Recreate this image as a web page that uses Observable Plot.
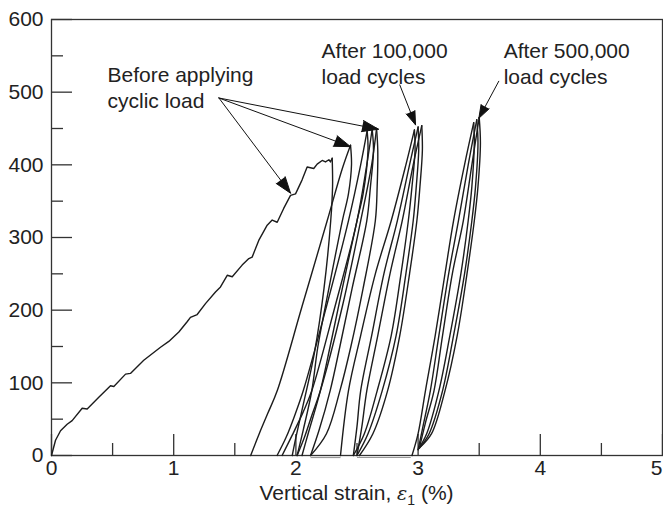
<!DOCTYPE html>
<html><head><meta charset="utf-8">
<script src="https://cdn.jsdelivr.net/npm/d3@7"></script>
<script src="https://cdn.jsdelivr.net/npm/@observablehq/plot@0.6"></script>
<style>
html,body{margin:0;padding:0;background:#fff;}
body{width:663px;height:519px;overflow:hidden;font-family:"Liberation Sans",Arial,Helvetica,sans-serif;color:#222;}
#xlabel{box-sizing:border-box;width:663px;padding-left:51px;padding-right:1px;text-align:center;font-size:21px;line-height:24px;height:38px;}
#xlabel sub{font-size:14px;vertical-align:-5px;line-height:0;}
#xlabel i{font-family:"DejaVu Serif",serif;font-size:19px;}
</style></head>
<body>
<div id="chart"></div>
<div id="xlabel">Vertical strain, <i>ε</i><sub>1</sub> (%)</div>
<script>
// Axis ticks
const xMajor = [0, 1, 2, 3, 4];
const xLast = [5];
const xMinor = [0.5, 1.5, 2.5, 3.5, 4.5];
const yMajor = [0, 100, 200, 300, 400, 500, 600];
const yMinor = [50, 150, 250, 350, 450, 550];

// Monotonic loading (strain %, stress)
const monotonic = [[0,0],[0.033,21],[0.074,34],[0.128,43],[0.169,48],[0.251,65],[0.292,64],[0.387,80],[0.483,96],[0.51,95],[0.606,112],[0.646,113],[0.755,131],[0.892,149],[0.96,157],[1.042,170],[1.11,184],[1.137,190],[1.192,194],[1.26,209],[1.342,225],[1.383,232],[1.438,248],[1.479,246],[1.56,262],[1.615,271],[1.642,273],[1.696,296],[1.765,317],[1.806,324],[1.847,321],[1.90,340],[1.956,358],[1.997,360],[2.05,379],[2.092,397],[2.146,395],[2.174,401],[2.215,406],[2.242,404],[2.27,407],[2.283,404],[2.297,409]];

// Before applying cyclic load
const unloadA = [[2.297,409],[2.30,370],[2.285,323],[2.23,230],[2.15,140],[2.06,70],[2.00,25],[1.97,0]];
const loadB = [[1.63,0],[1.70,30],[1.77,58],[1.847,89],[2.05,205],[2.256,323],[2.38,395],[2.447,427]];
const unloadB = [[2.447,427],[2.455,400],[2.43,360],[2.38,323],[2.27,230],[2.18,150],[2.13,89],[2.06,35],[2.01,0]];
const loadC1 = [[1.846,0],[1.92,25],[1.99,55],[2.06,89],[2.25,205],[2.43,323],[2.53,400],[2.583,447]];
const unloadC1 = [[2.583,447],[2.59,420],[2.55,360],[2.50,323],[2.38,230],[2.28,150],[2.20,89],[2.10,30],[2.05,0]];
const loadC2 = [[1.887,0],[1.97,28],[2.06,60],[2.13,89],[2.32,205],[2.50,323],[2.58,400],[2.624,449]];
const unloadC2 = [[2.624,449],[2.635,420],[2.61,370],[2.58,323],[2.46,230],[2.36,150],[2.28,89],[2.19,35],[2.12,0]];
const loadC3 = [[2.01,0],[2.07,25],[2.13,55],[2.20,89],[2.38,205],[2.53,323],[2.62,400],[2.66,450]];
const unloadC3 = [[2.66,450],[2.67,420],[2.665,370],[2.65,323],[2.55,230],[2.45,150],[2.36,89],[2.25,30],[2.12,0]];

// After 100,000 load cycles
const loadD1 = [[2.365,0],[2.43,89],[2.53,165],[2.65,250],[2.78,323],[2.90,400],[2.97,448]];
const unloadD1 = [[2.97,448],[2.975,420],[2.95,370],[2.92,323],[2.86,250],[2.78,165],[2.665,89],[2.56,30],[2.47,0]];
const loadD2 = [[2.47,0],[2.50,40],[2.53,89],[2.62,165],[2.72,250],[2.83,323],[2.93,400],[3.00,452]];
const unloadD2 = [[3.00,452],[3.005,420],[2.985,370],[2.96,323],[2.90,250],[2.82,165],[2.706,89],[2.59,30],[2.50,0]];
const loadD3 = [[2.50,0],[2.54,40],[2.58,89],[2.67,165],[2.77,250],[2.87,323],[2.96,400],[3.03,454]];
const unloadD3 = [[3.03,454],[3.035,420],[3.015,370],[2.99,323],[2.93,250],[2.85,165],[2.75,89],[2.63,30],[2.52,0]];

// After 500,000 load cycles
const loadE1 = [[2.95,0],[3.00,30],[3.06,89],[3.14,165],[3.22,250],[3.29,323],[3.38,400],[3.455,458]];
const unloadE1 = [[3.455,458],[3.46,430],[3.44,370],[3.41,323],[3.35,250],[3.26,165],[3.17,89],[3.07,30],[3.00,8]];
const loadE2 = [[3.00,8],[3.04,40],[3.10,89],[3.17,165],[3.25,250],[3.33,323],[3.41,400],[3.48,462]];
const unloadE2 = [[3.48,462],[3.49,430],[3.47,370],[3.44,323],[3.38,250],[3.29,165],[3.20,89],[3.09,30],[3.01,10]];
const loadE3 = [[3.01,10],[3.06,45],[3.13,89],[3.20,165],[3.28,250],[3.37,323],[3.44,400],[3.50,465]];
const unloadE3 = [[3.50,465],[3.51,430],[3.49,370],[3.46,323],[3.40,250],[3.32,165],[3.22,89],[3.11,30],[3.02,12]];

// Zero-load runs along the strain axis
const zeroRuns = [[2.12, 2.365], [2.50, 2.94]];

// Annotations
const labels = [
  {x: 0.458, y: 508, text: "Before applying\ncyclic load"},
  {x: 2.21, y: 541, text: "After 100,000\nload cycles"},
  {x: 3.70, y: 541, text: "After 500,000\nload cycles"}
];
const arrows = [
  {x1: 1.37, y1: 492, x2: 1.956, y2: 361},
  {x1: 1.37, y1: 492, x2: 2.447, y2: 425},
  {x1: 1.37, y1: 492, x2: 2.676, y2: 449},
  {x1: 2.85, y1: 510, x2: 2.979, y2: 455},
  {x1: 3.66, y1: 515, x2: 3.497, y2: 464}
];

const loops = {unloadA, loadB, unloadB, loadC1, unloadC1, loadC2, unloadC2, loadC3, unloadC3,
  loadD1, unloadD1, loadD2, unloadD2, loadD3, unloadD3,
  loadE1, unloadE1, loadE2, unloadE2, loadE3, unloadE3};
const loopRows = Object.entries(loops).flatMap(([id, pts]) => pts.map(([x, y]) => ({id, x, y})));
const monoRows = monotonic.map(([x, y]) => ({x, y}));
const zeroRows = zeroRuns.map(([a, b]) => ({x1: a, x2: b}));

const ink = "#1c1c1c";
const axisInk = "#333";
const font = "Liberation Sans, Arial, Helvetica, sans-serif";

const chart = Plot.plot({
  width: 663, height: 481,
  marginTop: 19, marginLeft: 51, marginRight: 1, marginBottom: 26,
  x: {domain: [0, 5]},
  y: {domain: [0, 600]},
  style: {fontFamily: font, fontSize: "21px", color: "#222", background: "white"},
  marks: [
    Plot.frame({stroke: axisInk, strokeWidth: 1.3}),
    Plot.axisX({ticks: [...xMajor, ...xLast], tickSize: 21, dy: -21, tickFormat: () => "", label: null, stroke: axisInk, strokeWidth: 1.3}),
    Plot.axisX({ticks: xMinor, tickSize: 12, dy: -12, tickFormat: () => "", label: null, stroke: axisInk, strokeWidth: 1.3}),
    Plot.axisX({ticks: xMajor, tickSize: 0, tickPadding: 5, tickFormat: d => String(d), label: null, fontSize: 21, fill: "#222"}),
    Plot.axisX({ticks: xLast, tickSize: 0, tickPadding: 5, dx: -6, tickFormat: d => String(d), label: null, fontSize: 21, fill: "#222"}),
    Plot.axisY({ticks: yMajor, tickSize: 21, dx: 21, tickFormat: () => "", label: null, stroke: axisInk, strokeWidth: 1.3}),
    Plot.axisY({ticks: yMinor, tickSize: 12, dx: 12, tickFormat: () => "", label: null, stroke: axisInk, strokeWidth: 1.3}),
    Plot.axisY({ticks: yMajor, tickSize: 0, tickPadding: 8, tickFormat: d => String(d), label: null, fontSize: 21, fill: "#222"}),
    Plot.link(zeroRows, {x1: "x1", x2: "x2", y1: 0, y2: 0, dy: 2, stroke: "#999", strokeWidth: 1.2}),
    Plot.line(monoRows, {x: "x", y: "y", stroke: ink, strokeWidth: 1.4, strokeLinejoin: "round"}),
    Plot.line(loopRows, {x: "x", y: "y", z: "id", curve: "catmull-rom", stroke: ink, strokeWidth: 1.4}),
    Plot.arrow(arrows, {x1: "x1", y1: "y1", x2: "x2", y2: "y2", stroke: "#111", fill: "#111", strokeWidth: 1, headLength: 26, headAngle: 38, strokeLinejoin: "miter"}),
    Plot.text(labels, {x: "x", y: "y", text: "text", textAnchor: "start", lineAnchor: "middle", lineHeight: 1.25, fontSize: 21, fill: "#222"})
  ]
});
document.getElementById("chart").appendChild(chart);
</script>
</body></html>
